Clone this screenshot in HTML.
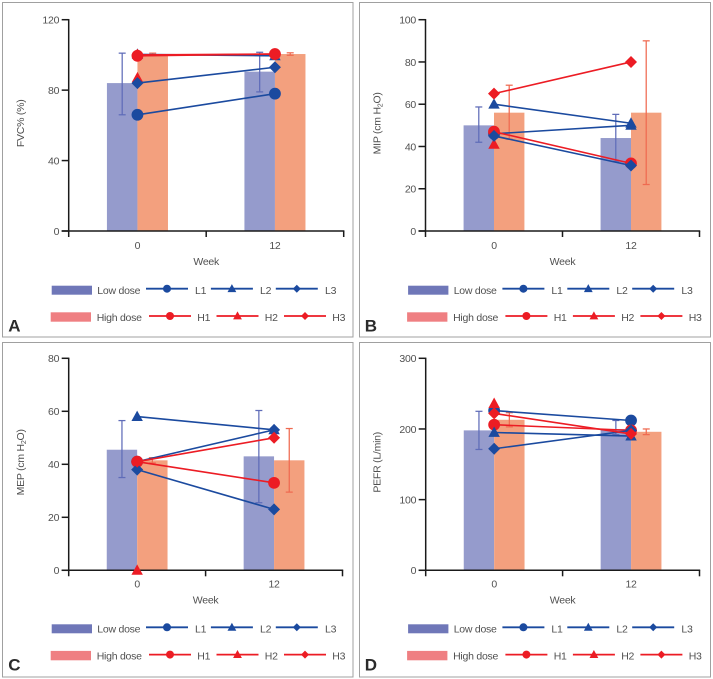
<!DOCTYPE html>
<html>
<head>
<meta charset="utf-8">
<title>Respiratory outcomes by dose group</title>
<style>
html,body{margin:0;padding:0;background:#fff;}
svg{display:block;font-family:"Liberation Sans",sans-serif;filter:blur(0.3px);}
text{fill:#505050;font-size:10.5px;letter-spacing:-0.25px;}
</style>
</head>
<body>
<svg id="figure" xmlns="http://www.w3.org/2000/svg" width="713" height="679" viewBox="0 0 713 679"></svg>
<script>
const weekCategories = ['0', '12'];
const lowLegendNames = ['L1', 'L2', 'L3'];
const highLegendNames = ['H1', 'H2', 'H3'];

/* Panel A: FVC% */
const aTicks = [0, 40, 80, 120];
const aLowBars = [84, 90.5];
const aHighBars = [100.5, 100.5];
const aLowErrLower = [66, 79];
const aLowErrUpper = [101, 101.5];
const aHighErrLower = [100, 99.8];
const aHighErrUpper = [101, 101.2];
const aL1 = [66, 78];
const aL2 = [100.3, 99.5];
const aL3 = [84, 93];
const aH1 = [99.5, 100.5];
const aH2 = [87, null];
const aH3 = [100, 100.5];

/* Panel B: MIP */
const bTicks = [0, 20, 40, 60, 80, 100];
const bLowBars = [50, 44];
const bHighBars = [56, 56];
const bLowErrLower = [42, 33];
const bLowErrUpper = [58.7, 55.2];
const bHighErrLower = [43.5, 22];
const bHighErrUpper = [69, 90];
const bL1 = [46, 50];
const bL2 = [60, 51];
const bL3 = [45, 31];
const bH1 = [47, 32];
const bH2 = [41, null];
const bH3 = [65, 80];

/* Panel C: MEP */
const cTicks = [0, 20, 40, 60, 80];
const cLowBars = [45.5, 43];
const cHighBars = [41.5, 41.5];
const cLowErrLower = [35, 25.5];
const cLowErrUpper = [56.5, 60.3];
const cHighErrLower = [40.5, 29.5];
const cHighErrUpper = [42.5, 53.5];
const cL1 = [41, 53];
const cL2 = [58, 53];
const cL3 = [38, 23];
const cH1 = [41, 33];
const cH2 = [0, null];
const cH3 = [41, 50];

/* Panel D: PEFR */
const dTicks = [0, 100, 200, 300];
const dLowBars = [198, 200];
const dHighBars = [213, 196];
const dLowErrLower = [171, 192];
const dLowErrUpper = [225, 212];
const dHighErrLower = [203, 192];
const dHighErrUpper = [223, 200];
const dL1 = [226, 212];
const dL2 = [195, 190];
const dL3 = [172, 198];
const dH1 = [206, 198];
const dH2 = [236, null];
const dH3 = [222, 193];

const BLUE = '#1b4a9f', RED = '#ec1c24';
const svg = document.getElementById('figure');
const NS = 'http://www.w3.org/2000/svg';

function make(tag, attrs, parent) {
  const n = document.createElementNS(NS, tag);
  for (const k in attrs) n.setAttribute(k, attrs[k]);
  (parent || svg).appendChild(n);
  return n;
}
function label(str, x, y, anchor, parent) {
  const t = make('text', {x: x, y: y, 'text-anchor': anchor || 'start'}, parent);
  t.textContent = str;
  return t;
}
function marker(shape, x, y, r, color, parent) {
  if (shape === 0) return make('circle', {cx: x, cy: y, r: r, fill: color}, parent);
  if (shape === 1) return make('polygon', {points: `${x},${y - r * 1.15} ${x + r * 1.1},${y + r * 0.85} ${x - r * 1.1},${y + r * 0.85}`, fill: color}, parent);
  return make('polygon', {points: `${x},${y - r} ${x + r},${y} ${x},${y + r} ${x - r},${y}`, fill: color}, parent);
}

const defaultOrder = ['L1', 'H2', 'L2', 'H1', 'L3', 'H3'];
const panels = [
  {key: 'a', letter: 'A', box: [2.5, 2.5, 350.5, 334.5], x0: 68.7, x1: 343.7, top: 19.7, base: 231, dx: 0, dy: 0,
   title: ['FVC% (%)'], ticks: aTicks, low: aLowBars, high: aHighBars,
   lowLo: aLowErrLower, lowHi: aLowErrUpper, highLo: aHighErrLower, highHi: aHighErrUpper,
   L: [aL1, aL2, aL3], H: [aH1, aH2, aH3], order: defaultOrder, endShapeL1: 0},
  {key: 'b', letter: 'B', box: [359.5, 2.5, 351, 334.5], x0: 425.5, x1: 699.5, top: 19.7, base: 231, dx: 356.4, dy: 0,
   title: ['MIP (cm H', '2', 'O)'], ticks: bTicks, low: bLowBars, high: bHighBars,
   lowLo: bLowErrLower, lowHi: bLowErrUpper, highLo: bHighErrLower, highHi: bHighErrUpper,
   L: [bL1, bL2, bL3], H: [bH1, bH2, bH3], order: defaultOrder, endShapeL1: 1},
  {key: 'c', letter: 'C', box: [2.5, 342.5, 350.5, 334.5], x0: 68.7, x1: 342.5, top: 358.3, base: 570.3, dx: 0, dy: 338.6,
   title: ['MEP (cm H', '2', 'O)'], ticks: cTicks, low: cLowBars, high: cHighBars,
   lowLo: cLowErrLower, lowHi: cLowErrUpper, highLo: cHighErrLower, highHi: cHighErrUpper,
   L: [cL1, cL2, cL3], H: [cH1, cH2, cH3], order: ['L2', 'L1', 'H2', 'H1', 'L3', 'H3'], endShapeL1: 2},
  {key: 'd', letter: 'D', box: [359.5, 342.5, 351, 334.5], x0: 425.7, x1: 699.5, top: 358.3, base: 570.3, dx: 356.4, dy: 338.6,
   title: ['PEFR (L/min)'], ticks: dTicks, low: dLowBars, high: dHighBars,
   lowLo: dLowErrLower, lowHi: dLowErrUpper, highLo: dHighErrLower, highHi: dHighErrUpper,
   L: [dL1, dL2, dL3], H: [dH1, dH2, dH3], order: ['L1', 'H2', 'H1', 'L2', 'L3', 'H3'], endShapeL1: 0}
];

panels.forEach(function (p) {
  const g = make('g', {});
  
  

  const yMax = p.ticks[p.ticks.length - 1];
  const yScale = function (v) { return p.base - (v / yMax) * (p.base - p.top); };
  const xScale = function (i) { return p.x0 + (i + 0.5) * (p.x1 - p.x0) / weekCategories.length; };
  const barW = (p.x1 - p.x0) * 0.111;

  const border = make('rect', {x: p.box[0], y: p.box[1], width: p.box[2], height: p.box[3], fill: '#fff', stroke: '#a0a0a0', 'stroke-width': 1}, g);
  
  

  /* bars */
  weekCategories.forEach(function (c, i) {
    const lowBar = make('rect', {x: xScale(i) - barW, y: yScale(p.low[i]), width: barW, height: p.base - yScale(p.low[i]), fill: '#959bcc'}, g);
    
    
    const highBar = make('rect', {x: xScale(i), y: yScale(p.high[i]), width: barW, height: p.base - yScale(p.high[i]), fill: '#f3a07e'}, g);
    
    
  });

  /* error bars */
  function errorBar(x, lo, hi, color) {
    const e = make('g', {stroke: color, 'stroke-width': 1.25, fill: 'none'}, g);
    make('line', {x1: x, x2: x, y1: yScale(lo), y2: yScale(hi)}, e);
    make('line', {x1: x - 3.5, x2: x + 3.5, y1: yScale(lo), y2: yScale(lo)}, e);
    make('line', {x1: x - 3.5, x2: x + 3.5, y1: yScale(hi), y2: yScale(hi)}, e);
    return e;
  }
  weekCategories.forEach(function (c, i) {
    const le = errorBar(xScale(i) - barW / 2, p.lowLo[i], p.lowHi[i], '#5f6cb8');
    
    
    const he = errorBar(xScale(i) + barW / 2, p.highLo[i], p.highHi[i], '#ef6a50');
    
    
  });

  /* axes */
  const axes = make('g', {stroke: '#1a1a1a', 'stroke-width': 1.5, fill: 'none'}, g);
  
  
  make('line', {x1: p.x0, x2: p.x0, y1: p.top - 0.7, y2: p.base + 6}, axes);
  make('line', {x1: p.x0 - 7, x2: p.x1 + 0.7, y1: p.base, y2: p.base}, axes);
  make('line', {x1: (p.x0 + p.x1) / 2, x2: (p.x0 + p.x1) / 2, y1: p.base, y2: p.base + 6}, axes);
  make('line', {x1: p.x1, x2: p.x1, y1: p.base, y2: p.base + 6}, axes);
  p.ticks.forEach(function (t) {
    make('line', {x1: p.x0 - 7, x2: p.x0, y1: yScale(t), y2: yScale(t)}, axes);
    const tl = label(String(t), p.x0 - 9.5, yScale(t) + 3.8, 'end', g);
    
    
  });
  weekCategories.forEach(function (c, i) {
    const xl = label(c, xScale(i), 249 + p.dy, 'middle', g);
    
    
  });
  const xTitle = label('Week', (p.x0 + p.x1) / 2, 265 + p.dy, 'middle', g);
  
  

  const yc = (p.top + p.base) / 2 - 2;
  const yTitle = make('text', {x: 0, y: 0, 'text-anchor': 'middle', transform: `translate(${24 + p.dx},${yc}) rotate(-90)`}, g);
  
  
  if (p.title.length === 1) {
    yTitle.textContent = p.title[0];
  } else {
    const s1 = make('tspan', {}, yTitle); s1.textContent = p.title[0];
    const s2 = make('tspan', {dy: 2, style: 'font-size:7px'}, yTitle); s2.textContent = p.title[1];
    const s3 = make('tspan', {dy: -2}, yTitle); s3.textContent = p.title[2];
  }

  /* series: drawing order matches overlaps in the figure */
  const seriesByName = {
    L1: {values: p.L[0], shape: 0, color: BLUE},
    L2: {values: p.L[1], shape: 1, color: BLUE},
    L3: {values: p.L[2], shape: 2, color: BLUE},
    H1: {values: p.H[0], shape: 0, color: RED},
    H2: {values: p.H[1], shape: 1, color: RED},
    H3: {values: p.H[2], shape: 2, color: RED}
  };
  p.order.forEach(function (name) {
    const s = seriesByName[name];
    const sg = make('g', {}, g);
    
    
    if (s.values[0] !== null && s.values[1] !== null) {
      make('line', {x1: xScale(0), x2: xScale(1), y1: yScale(s.values[0]), y2: yScale(s.values[1]), stroke: s.color, 'stroke-width': 1.6}, sg);
    }
    s.values.forEach(function (v, i) {
      if (v === null) return;
      const shape = (name === 'L1' && i === 1) ? p.endShapeL1 : s.shape;
      marker(shape, xScale(i), yScale(v), shape === 0 ? 5.9 : (shape === 1 ? 5.2 : 6), s.color, sg);
    });
  });

  /* legend */
  const legend = make('g', {transform: `translate(${p.dx},${p.dy})`}, g);
  
  

  const lowSwatch = make('rect', {x: 51.7, y: 285.7, width: 40.3, height: 9, fill: '#6f77b8'}, legend);
  
  
  const lowText = label('Low dose', 97.3, 294, 'start', legend);
  
  

  const highSwatch = make('rect', {x: 50.7, y: 312.3, width: 40.3, height: 9.4, fill: '#ef7f82'}, legend);
  
  
  const highText = label('High dose', 96.7, 321, 'start', legend);
  
  

  function legendEntry(name, shape, color, x, y, textX, textY) {
    const eg = make('g', {}, legend);
    
    
    make('line', {x1: x, x2: x + 42, y1: y, y2: y, stroke: color, 'stroke-width': 1.8}, eg);
    marker(shape, x + 21, y, shape === 0 ? 4 : 4, color, eg);
    label(name, textX, textY, 'start', eg);
  }
  lowLegendNames.forEach(function (n, i) {
    legendEntry(n, i, BLUE, 146 + i * 64.9, 288.7, 195 + i * 65, 294);
  });
  highLegendNames.forEach(function (n, i) {
    legendEntry(n, i, RED, 149 + i * 67.5, 316, 197.3 + i * 67.5, 321);
  });

  const letter = make('text', {x: 8.3, y: 331.7, style: 'font-size:17px;font-weight:bold;fill:#2b2b2b;letter-spacing:0'}, legend);
  letter.textContent = p.letter;
  
  
});
</script>
</body>
</html>
